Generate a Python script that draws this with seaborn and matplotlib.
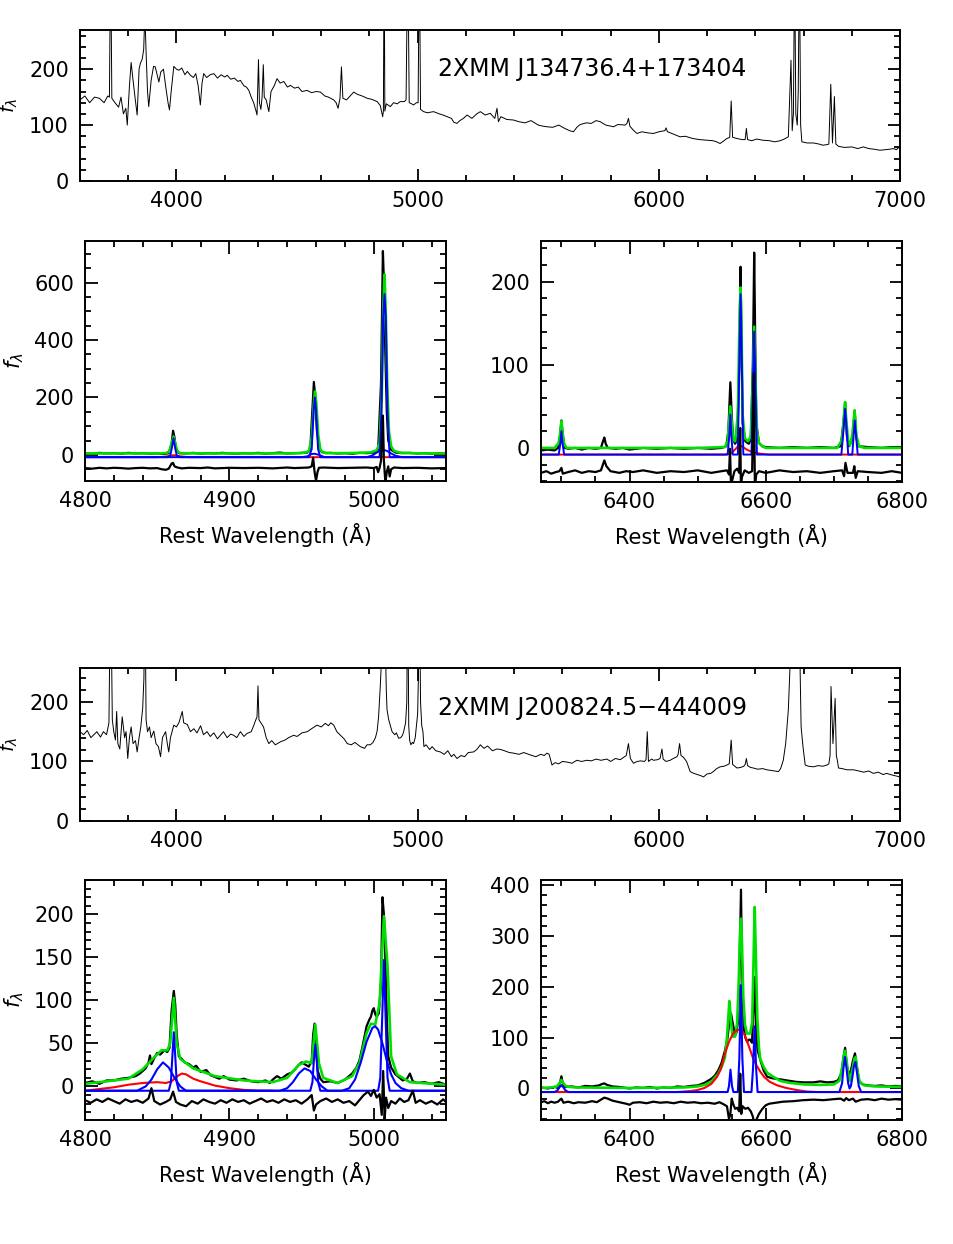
import seaborn as sns
import matplotlib.pyplot as plt
from matplotlib.ticker import MultipleLocator

# ---------------- overview spectrum, 2XMM J134736.4+173404 ----------------
ov1_wave = [3600, 3620, 3640, 3660, 3680, 3700, 3715, 3722, 3727, 3732,
            3745, 3760, 3770, 3780, 3790, 3796, 3805, 3812, 3820, 3828,
            3837, 3845, 3850, 3858, 3864, 3869, 3874, 3880, 3885, 3895,
            3905, 3912, 3920, 3927, 3935, 3946, 3955, 3965, 3971, 3978,
            3989, 4000, 4010, 4022, 4035, 4045, 4058, 4070, 4080, 4090,
            4099, 4106, 4113, 4125, 4140, 4155, 4170, 4185, 4200, 4210,
            4225, 4240, 4255, 4265, 4280, 4290, 4300, 4310, 4320, 4330,
            4334, 4340, 4344, 4350, 4355, 4360, 4364, 4372, 4383, 4392,
            4405, 4417, 4430, 4445, 4460, 4472, 4490, 4505, 4520, 4542,
            4560, 4580, 4597, 4615, 4630, 4652, 4662, 4670, 4678, 4684,
            4690, 4705, 4720, 4735, 4750, 4770, 4790, 4810, 4832, 4845,
            4855, 4858, 4861, 4864, 4870, 4887, 4900, 4915, 4928, 4945,
            4952, 4959, 4965, 4975, 4983, 4995, 5002, 5007, 5012, 5025,
            5040, 5066, 5090, 5105, 5122, 5140, 5150, 5163, 5175, 5190,
            5205, 5225, 5245, 5260, 5280, 5301, 5320, 5329, 5335, 5345,
            5370, 5398, 5420, 5445, 5470, 5500, 5520, 5536, 5560, 5585,
            5610, 5630, 5646, 5660, 5674, 5700, 5720, 5740, 5757, 5780,
            5800, 5812, 5830, 5860, 5868, 5874, 5880, 5892, 5909, 5930,
            5955, 5978, 6000, 6025, 6030, 6036, 6060, 6088, 6110, 6140,
            6170, 6199, 6225, 6240, 6254, 6270, 6282, 6294, 6300, 6306,
            6324, 6345, 6358, 6363, 6368, 6385, 6406, 6430, 6460, 6480,
            6503, 6520, 6537, 6548, 6553, 6558, 6563, 6568, 6574, 6578,
            6583, 6588, 6593, 6615, 6641, 6665, 6680, 6697, 6705, 6713,
            6720, 6728, 6734, 6745, 6770, 6800, 6825, 6848, 6870, 6890,
            6917, 6940, 6960, 6972, 6985, 7000]
ov1_flux = [145, 152, 140, 150, 148, 140, 152, 150, 420, 148,
            140, 132, 150, 120, 130, 100, 170, 212, 180, 150,
            118, 200, 210, 218, 235, 300, 230, 160, 133, 180,
            205, 204, 190, 177, 195, 200, 170, 140, 127, 160,
            205, 200, 198, 202, 190, 196, 189, 185, 192, 170,
            136, 175, 192, 185, 190, 192, 184, 190, 186, 189,
            182, 184, 178, 180, 170, 168, 162, 150, 140, 125,
            118, 217, 140, 128, 150, 208, 150, 145, 124, 160,
            170, 183, 175, 178, 168, 171, 166, 168, 160, 162,
            158, 160, 159, 152, 150, 145, 140, 130, 148, 204,
            148, 145, 152, 159, 155, 152, 148, 146, 142, 135,
            115, 125, 420, 125, 138, 133, 140, 138, 142, 142,
            145, 420, 140, 138, 136, 140, 140, 420, 128, 124,
            122, 124, 120, 118, 115, 112, 105, 103, 108, 112,
            118, 112, 120, 124, 118, 121, 112, 130, 106, 115,
            110, 109, 106, 104, 108, 100, 98, 97, 96, 100,
            94, 90, 88, 96, 101, 104, 103, 108, 106, 100,
            98, 97, 101, 100, 103, 112, 98, 92, 85, 88,
            86, 85, 88, 90, 95, 88, 84, 79, 80, 76,
            74, 73, 72, 70, 67, 72, 76, 78, 143, 78,
            76, 74, 74, 94, 74, 72, 75, 73, 72, 70,
            72, 75, 79, 216, 90, 120, 400, 120, 100, 160,
            400, 100, 70, 68, 68, 66, 64, 65, 66, 173,
            68, 151, 66, 62, 60, 61, 58, 61, 58, 57,
            55, 56, 57, 58, 56, 62]

# ---------------- Hbeta / [OIII] fit, J134736.4 ----------------
z1_data_wave = [4800, 4805, 4810, 4815, 4820, 4825, 4830, 4835, 4840, 4845,
                4850, 4855, 4858, 4860, 4861, 4862, 4863, 4865, 4870, 4875,
                4880, 4885, 4890, 4895, 4900, 4905, 4910, 4915, 4920, 4925,
                4930, 4935, 4940, 4945, 4950, 4954, 4956, 4957.5, 4958.5, 4959.5,
                4960.5, 4962, 4964, 4967, 4970, 4975, 4980, 4985, 4990, 4995,
                5000, 5003, 5005, 5006.3, 5007, 5008, 5009, 5010, 5012, 5015,
                5020, 5025, 5030, 5035, 5040, 5045, 5050]
z1_data_flux = [6, 4, 7, 5, 6, 4, 7, 5, 6, 4,
                5, 3, 6, 40, 84, 60, 20, 6, 5, 7,
                4, 6, 5, 7, 5, 4, 6, 5, 7, 4,
                6, 8, 5, 6, 7, 8, 20, 160, 254, 200,
                90, 25, 10, 6, 7, 5, 6, 4, 7, 6,
                8, 15, 250, 710, 600, 350, 150, 50, 18, 8,
                6, 7, 5, 6, 4, 6, 5]
z1_fit_wave = [4800, 4820, 4840, 4850, 4856, 4858.5, 4860, 4861.3, 4862.5, 4864,
               4866, 4880, 4900, 4920, 4940, 4950, 4955, 4957, 4958.5, 4959.3,
               4960.2, 4961.5, 4963, 4965, 4970, 4980, 4990, 4998, 5002, 5004,
               5005.5, 5006.5, 5007.4, 5008.3, 5009.3, 5010.5, 5012, 5014, 5018, 5025,
               5035, 5050]
z1_fit_flux = [5, 5, 5, 5, 6, 12, 40, 64, 40, 12,
               6, 5, 5, 5, 5, 6, 12, 60, 180, 221,
               180, 70, 18, 8, 6, 6, 7, 9, 16, 40,
               200, 500, 628, 500, 250, 80, 30, 14, 8, 6,
               5, 5]
z1_narrow_wave = [4800, 4857, 4859, 4860.2, 4861.3, 4862.4, 4863.6, 4866, 4955, 4957,
                  4958.3, 4959.2, 4960.1, 4961.4, 4963, 5004, 5005.3, 5006.5, 5007.4, 5008.3,
                  5009.5, 5011, 5050]
z1_narrow_flux = [-8, -8, -3, 25, 58, 25, -3, -8, -8, 20,
                  150, 200, 150, 20, -8, -8, 150, 480, 560, 480,
                  150, -8, -8]
z1_wing_wave = [4800, 4950, 4954, 4957, 4959, 4962, 4966, 4995, 4999, 5002,
                5005, 5007, 5009, 5012, 5015, 5020, 5050]
z1_wing_flux = [-8, -8, -5, 3, 4, 0, -8, -8, -2, 8,
                16, 17, 14, 5, -3, -8, -8]
z1_broad_wave = [4800, 4850, 4856, 4860, 4862, 4866, 4872, 5050]
z1_broad_flux = [-8, -8, -6, -2, -1, -5, -8, -8]
z1_resid_wave = [4800, 4805, 4810, 4815, 4820, 4825, 4830, 4835, 4840, 4845,
                 4850, 4853, 4856, 4858, 4860, 4861, 4862, 4864, 4867, 4872,
                 4880, 4885, 4890, 4900, 4910, 4920, 4930, 4940, 4945, 4950,
                 4955, 4957, 4958, 4959, 4960, 4961, 4962, 4965, 4975, 4985,
                 4995, 5000, 5002, 5003, 5004, 5005, 5006.3, 5007, 5008, 5009,
                 5010, 5011, 5012, 5014, 5020, 5030, 5040, 5050]
z1_resid_flux = [-46, -48, -45, -47, -45, -46, -48, -46, -45, -47,
                 -46, -50, -52, -48, -30, -28, -40, -44, -47, -45,
                 -46, -44, -47, -45, -46, -45, -47, -44, -46, -45,
                 -44, -40, -10, -60, -90, -60, -45, -44, -46, -45,
                 -44, -46, -42, -60, -45, -20, 137, -20, -95, -60,
                 -40, -75, -50, -44, -46, -45, -47, -46]

# ---------------- Halpha / [NII] / [SII] fit, J134736.4 ----------------
z2_data_wave = [6270, 6280, 6290, 6295, 6298, 6300, 6302, 6305, 6310, 6320,
                6330, 6340, 6350, 6358, 6361, 6363, 6365, 6368, 6380, 6390,
                6400, 6420, 6440, 6460, 6480, 6500, 6520, 6535, 6542, 6545,
                6548, 6550, 6552, 6555, 6558, 6561, 6563, 6564.5, 6566, 6570,
                6575, 6578, 6581, 6583, 6584.5, 6586, 6590, 6595, 6600, 6620,
                6640, 6660, 6680, 6700, 6710, 6714, 6716.5, 6719, 6722, 6727,
                6730.5, 6733, 6736, 6750, 6770, 6785, 6800]
z2_data_flux = [-3, -2, -3, 0, 15, 33, 15, 0, -1, 0,
                -2, 0, -1, 0, 8, 12.5, 5, 0, -1, 0,
                -2, 0, -1, 0, -1, 0, -1, 0, 2, 20,
                79, 40, 10, 5, 10, 100, 218, 120, 30, 8,
                5, 10, 100, 235, 130, 30, 6, 2, 1, 0,
                1, 0, 1, 0, 2, 30, 55, 15, 2, 10,
                45, 12, 2, 1, 0, 1, 1]
z2_fit_wave = [6270, 6290, 6296, 6298.5, 6300, 6301.5, 6304, 6308, 6500, 6540,
               6544, 6546, 6548, 6550, 6552, 6555, 6559, 6561.5, 6563, 6564.5,
               6566, 6569, 6574, 6578, 6581, 6583, 6585, 6587, 6590, 6595,
               6600, 6705, 6712, 6715, 6716.5, 6718, 6721, 6723.5, 6727, 6730.5,
               6733, 6737, 6745, 6800]
z2_fit_flux = [0, 0, 6, 20, 32, 20, 4, 0, 0, 1,
               8, 30, 50, 30, 10, 8, 40, 160, 193, 140,
               40, 12, 8, 14, 80, 146, 80, 20, 6, 2,
               0, 0, 10, 40, 55, 35, 8, 3, 15, 45,
               15, 2, 0, 0]
z2_narrow_wave = [6270, 6296, 6298.5, 6300, 6301.5, 6304, 6544, 6546.5, 6548, 6549.5,
                  6551.5, 6559, 6561.5, 6563, 6564.5, 6567, 6579, 6581.5, 6583, 6584.5,
                  6587, 6711, 6714.5, 6716.5, 6718.5, 6721, 6727, 6729, 6730.7, 6732.5,
                  6735, 6800]
z2_narrow_flux = [-8, -8, 6, 20, 6, -8, -8, 15, 40, 15,
                  -8, -8, 120, 185, 120, -8, -8, 90, 140, 90,
                  -8, -8, 25, 47, 25, -8, -8, 15, 33, 15,
                  -8, -8]
z2_broad_wave = [6270, 6540, 6550, 6556, 6560, 6565, 6572, 6580, 6592, 6605, 6800]
z2_broad_flux = [-8, -8, -6, -1, 3, 2, -2, -5, -7, -8, -8]
z2_resid_wave = [6270, 6278, 6285, 6292, 6297, 6300, 6302, 6310, 6320, 6330,
                 6340, 6350, 6358, 6363, 6366, 6372, 6385, 6395, 6405, 6420,
                 6440, 6460, 6480, 6500, 6520, 6535, 6543, 6546, 6547.5, 6549,
                 6551, 6554, 6558, 6561, 6562.5, 6563.5, 6565, 6569, 6575, 6580,
                 6582.5, 6584, 6586, 6590, 6600, 6620, 6640, 6660, 6680, 6700,
                 6712, 6715, 6717, 6720, 6728, 6730, 6732, 6735, 6750, 6770,
                 6785, 6800]
z2_resid_flux = [-30, -28, -31, -29, -28, -24, -31, -29, -27, -30,
                 -28, -29, -27, -15, -22, -28, -30, -28, -29, -27,
                 -30, -28, -29, -27, -30, -28, -27, -32, -1, -48,
                 -38, -28, -25, -30, 24, -48, -35, -27, -30, -28,
                 90, -48, -32, -28, -30, -27, -29, -28, -30, -28,
                 -27, -34, -18, -30, -30, -22, -36, -28, -29, -30,
                 -28, -30]

# ---------------- overview spectrum, 2XMM J200824.5-444009 ----------------
ov2_wave = [3600, 3615, 3630, 3645, 3655, 3670, 3685, 3697, 3710, 3720,
            3727, 3734, 3740, 3747, 3752, 3757, 3765, 3775, 3785, 3791,
            3798, 3805, 3812, 3820, 3830, 3837, 3845, 3852, 3860, 3865,
            3869, 3874, 3880, 3888, 3895, 3906, 3915, 3925, 3934, 3942,
            3955, 3962, 3968, 3975, 3989, 4000, 4010, 4024, 4030, 4045,
            4058, 4072, 4085, 4100, 4112, 4127, 4140, 4155, 4170, 4182,
            4195, 4210, 4225, 4237, 4250, 4265, 4280, 4292, 4310, 4320,
            4327, 4334, 4338, 4342, 4350, 4361, 4372, 4383, 4395, 4410,
            4431, 4450, 4465, 4486, 4500, 4520, 4542, 4560, 4583, 4600,
            4617, 4630, 4640, 4652, 4665, 4680, 4695, 4708, 4725, 4740,
            4762, 4780, 4790, 4804, 4815, 4825, 4832, 4838, 4845, 4850,
            4855, 4861, 4866, 4870, 4873, 4880, 4887, 4894, 4905, 4912,
            4921, 4930, 4937, 4942, 4950, 4955, 4959, 4963, 4967, 4972,
            4978, 4983, 4990, 4996, 5000, 5003, 5007, 5012, 5017, 5022,
            5026, 5035, 5050, 5060, 5075, 5094, 5110, 5125, 5140, 5150,
            5163, 5180, 5195, 5210, 5232, 5245, 5260, 5275, 5290, 5310,
            5329, 5345, 5360, 5380, 5398, 5420, 5440, 5467, 5490, 5510,
            5525, 5536, 5545, 5550, 5557, 5570, 5585, 5600, 5619, 5640,
            5660, 5680, 5702, 5720, 5740, 5760, 5785, 5800, 5820, 5840,
            5854, 5865, 5874, 5882, 5895, 5910, 5925, 5940, 5947, 5952,
            5957, 5970, 5978, 5995, 6005, 6013, 6018, 6030, 6047, 6060,
            6075, 6080, 6086, 6092, 6102, 6115, 6130, 6145, 6160, 6175,
            6185, 6200, 6215, 6226, 6240, 6254, 6270, 6282, 6292, 6300,
            6306, 6315, 6324, 6340, 6352, 6358, 6363, 6368, 6380, 6392,
            6410, 6430, 6448, 6465, 6480, 6496, 6505, 6516, 6526, 6537,
            6545, 6552, 6563, 6575, 6583, 6586, 6590, 6598, 6607, 6620,
            6641, 6660, 6680, 6697, 6705, 6710, 6714, 6722, 6731, 6736,
            6741, 6745, 6760, 6780, 6807, 6830, 6850, 6870, 6890, 6910,
            6930, 6945, 6960, 6980, 7000]
ov2_flux = [150, 145, 152, 140, 144, 150, 141, 150, 145, 165,
            420, 170, 150, 136, 184, 130, 121, 175, 140, 150,
            105, 140, 158, 130, 135, 116, 140, 158, 190, 240,
            420, 170, 150, 158, 140, 151, 130, 125, 108, 140,
            150, 130, 116, 140, 161, 158, 165, 184, 165, 162,
            150, 155, 148, 160, 145, 150, 142, 148, 138, 144,
            150, 140, 146, 144, 140, 150, 142, 147, 150, 160,
            168, 175, 227, 170, 165, 158, 140, 130, 135, 128,
            133, 136, 140, 144, 142, 148, 150, 155, 161, 158,
            164, 160, 165, 161, 150, 144, 138, 130, 128, 132,
            125, 122, 128, 128, 132, 140, 151, 175, 226, 270,
            320, 420, 300, 220, 187, 170, 160, 150, 145, 148,
            139, 140, 144, 150, 165, 200, 420, 160, 135, 128,
            132, 130, 140, 165, 180, 240, 420, 200, 160, 150,
            125, 128, 120, 125, 118, 116, 112, 118, 108, 112,
            105, 110, 108, 115, 116, 120, 128, 122, 126, 118,
            121, 120, 118, 115, 114, 112, 115, 111, 108, 112,
            110, 114, 112, 105, 94, 98, 96, 100, 99, 97,
            102, 100, 102, 101, 104, 102, 104, 100, 105, 103,
            107, 110, 130, 105, 97, 100, 101, 100, 103, 150,
            100, 104, 102, 103, 105, 121, 104, 100, 102, 105,
            108, 112, 130, 110, 107, 100, 83, 80, 78, 76,
            74, 79, 80, 83, 88, 91, 92, 94, 96, 136,
            95, 92, 89, 90, 92, 95, 105, 93, 90, 89,
            87, 88, 86, 85, 84, 83, 88, 102, 130, 187,
            270, 330, 420, 330, 420, 250, 158, 124, 94, 92,
            91, 93, 92, 94, 96, 110, 226, 130, 206, 110,
            100, 89, 88, 86, 86, 84, 82, 84, 80, 82,
            78, 80, 78, 76, 74]

# ---------------- Hbeta / [OIII] fit, J200824.5 ----------------
z3_data_wave = [4800, 4805, 4810, 4815, 4820, 4825, 4830, 4835, 4838, 4842,
                4844, 4845, 4846, 4848, 4850, 4852, 4855, 4857, 4858.5, 4860,
                4861.5, 4862.5, 4863.5, 4865, 4867, 4869, 4872, 4875, 4877, 4880,
                4884, 4887, 4890, 4893, 4896, 4900, 4905, 4910, 4915, 4920,
                4925, 4928, 4930, 4933, 4936, 4940, 4943, 4945, 4948, 4950,
                4952, 4955, 4957, 4958, 4959, 4960, 4961, 4963, 4965, 4970,
                4975, 4980, 4985, 4988, 4990, 4992, 4995, 4997, 4998, 4999,
                5000, 5001, 5002, 5003.5, 5005, 5006, 5007, 5008, 5009, 5010,
                5012, 5015, 5018, 5020, 5023, 5025, 5027, 5030, 5035, 5040,
                5045, 5050]
z3_data_flux = [4, 6, 3, 7, 7, 9, 10, 12, 15, 21,
                28, 36, 26, 33, 39, 37, 42, 40, 45, 89,
                111, 95, 60, 35, 32, 28, 26, 22, 24, 17,
                19, 13, 11, 9, 12, 8, 7, 9, 6, 5,
                7, 4, 8, 12, 9, 14, 16, 19, 25, 28,
                26, 23, 30, 60, 73, 55, 19, 9, 5, 6,
                4, 8, 15, 22, 30, 45, 70, 78, 81, 88,
                91, 84, 81, 85, 120, 220, 200, 147, 80, 35,
                22, 14, 10, 7, 9, 15, 6, 4, 5, 3,
                5, 2]
z3_fit_wave = [4800, 4830, 4840, 4848, 4853, 4857, 4859, 4861.5, 4863.5, 4866,
               4875, 4890, 4910, 4930, 4940, 4948, 4953, 4957, 4959.5, 4962,
               4965, 4975, 4985, 4990, 4995, 4998, 5001, 5004, 5007, 5009.5,
               5012, 5016, 5025, 5050]
z3_fit_flux = [3, 9, 20, 34, 42, 42, 50, 103, 50, 32,
               21, 12, 7, 5, 10, 25, 29, 27, 72, 27,
               10, 4, 12, 27, 62, 73, 72, 97, 198, 140,
               35, 14, 5, 2]
z3_narrow_wave = [4800, 4858, 4859.5, 4860.5, 4861.5, 4862.5, 4863.5, 4865, 4956, 4957.5,
                  4958.5, 4959.5, 4960.5, 4961.5, 4963, 5003, 5004.5, 5006, 5007, 5008,
                  5009.5, 5011, 5050]
z3_narrow_flux = [-5, -5, 5, 35, 63, 35, 5, -5, -5, 5,
                  30, 49, 30, 5, -5, -5, 10, 90, 147, 90,
                  10, -5, -5]
z3_wing_wave = [4800, 4836, 4842, 4846, 4850, 4854, 4858, 4862, 4866, 4870,
                4935, 4940, 4944, 4948, 4952, 4956, 4960, 4964, 4968, 4978,
                4983, 4987, 4991, 4995, 4999, 5001, 5003, 5006, 5009, 5012,
                5015, 5019, 5024, 5050]
z3_wing_flux = [-5, -5, 0, 8, 20, 28, 22, 10, 0, -5,
                -5, -2, 5, 15, 21, 18, 8, 0, -5, -5,
                -2, 8, 28, 52, 68, 70, 66, 50, 30, 14,
                4, -2, -5, -5]
z3_broad_wave = [4800, 4810, 4820, 4830, 4840, 4850, 4856, 4860, 4864, 4867,
                 4870, 4875, 4880, 4890, 4900, 4910, 4920, 4930]
z3_broad_flux = [-5, -3, -1, 2, 4, 5, 4, 6, 12, 15,
                 14, 9, 6, 1, -2, -4, -5, -5]
z3_resid_wave = [4800, 4804, 4808, 4812, 4816, 4820, 4824, 4828, 4832, 4836,
                 4840, 4844, 4846, 4848, 4852, 4856, 4859, 4861, 4863, 4866,
                 4870, 4874, 4878, 4882, 4886, 4890, 4894, 4898, 4902, 4906,
                 4910, 4914, 4918, 4922, 4926, 4930, 4934, 4938, 4942, 4946,
                 4950, 4954, 4957, 4958.5, 4960, 4963, 4967, 4971, 4975, 4979,
                 4983, 4987, 4990, 4993, 4996, 4998, 5000, 5002, 5004, 5005.5,
                 5006.5, 5007.5, 5008.5, 5010, 5012, 5015, 5018, 5021, 5024, 5027,
                 5029, 5032, 5036, 5040, 5044, 5048, 5050]
z3_resid_flux = [-16, -19, -15, -18, -14, -17, -20, -15, -18, -16,
                 -19, -14, -2, -17, -21, -18, -15, -6, -18, -21,
                 -23, -17, -20, -15, -18, -20, -16, -19, -15, -18,
                 -16, -20, -17, -14, -18, -16, -19, -15, -18, -16,
                 -20, -15, -10, -28, -21, -17, -14, -18, -15, -19,
                 -17, -22, -16, -10, -6, -11, -4, -13, -9, -33,
                 18, -38, -13, -25, -17, -20, -14, -18, -16, -5,
                 -19, -16, -20, -17, -21, -15, -18]

# ---------------- Halpha / [NII] / [SII] fit, J200824.5 ----------------
z4_data_wave = [6270, 6280, 6290, 6295, 6298, 6300, 6302, 6305, 6315, 6325,
                6335, 6345, 6355, 6360, 6363, 6367, 6375, 6385, 6395, 6400,
                6410, 6420, 6430, 6440, 6450, 6460, 6470, 6480, 6490, 6500,
                6510, 6520, 6525, 6530, 6535, 6540, 6544, 6546, 6549, 6552,
                6555, 6557, 6559, 6561, 6563.6, 6565, 6567.5, 6570, 6572.5, 6575,
                6577, 6579.8, 6581.5, 6583.7, 6585.5, 6588, 6592, 6597, 6602, 6610,
                6621, 6635, 6645, 6656, 6670, 6680, 6690, 6700, 6706, 6711,
                6714, 6716.5, 6719, 6722, 6725, 6728, 6731, 6733.5, 6737, 6742,
                6750, 6760, 6770, 6780, 6790, 6800]
z4_data_flux = [2, 0, 3, 1, 12, 24, 10, 3, 4, 2,
                5, 4, 6, 9, 10, 7, 4, 3, 1, 0,
                2, 1, 3, 0, 2, 1, 4, 3, 5, 6,
                11, 19, 25, 35, 50, 74, 100, 126, 147, 125,
                105, 110, 129, 200, 391, 250, 121, 100, 92, 96,
                96, 90, 150, 219, 120, 75, 56, 35, 23, 20,
                18, 15, 13, 12, 12, 14, 12, 13, 16, 30,
                60, 80, 45, 28, 35, 55, 69, 45, 15, 8,
                6, 5, 6, 4, 5, 4]
z4_fit_wave = [6270, 6285, 6293, 6297, 6300, 6303, 6307, 6320, 6400, 6480,
               6500, 6510, 6520, 6530, 6536, 6540, 6543, 6545.5, 6546.5, 6548,
               6550, 6552, 6555, 6558, 6560.5, 6562, 6563.6, 6565, 6567, 6569.5,
               6572.5, 6577, 6580, 6582, 6583.7, 6585.5, 6587.5, 6590, 6592, 6597,
               6602, 6610, 6621, 6635, 6656, 6680, 6700, 6708, 6712, 6714.5,
               6716.5, 6719, 6722, 6724, 6727, 6730, 6732, 6734.5, 6738, 6745,
               6760, 6800]
z4_fit_flux = [1, 2, 4, 10, 17, 10, 4, 2, 1, 2,
               4, 7, 13, 29, 45, 61, 100, 150, 172, 150,
               115, 102, 102, 130, 220, 300, 334, 290, 180, 125,
               108, 108, 130, 250, 357, 260, 140, 80, 58, 42,
               31, 24, 15, 11, 8, 7, 8, 15, 40, 65,
               74, 50, 20, 15, 35, 58, 62, 35, 12, 6,
               4, 3]
z4_narrow_wave = [6270, 6290, 6294, 6297, 6300, 6303, 6306, 6310, 6544, 6546,
                  6548.2, 6550.4, 6552.5, 6559, 6561.2, 6563.4, 6565.6, 6568, 6579, 6581.3,
                  6583.6, 6585.8, 6588, 6708, 6712, 6714, 6716.2, 6718.5, 6721, 6723,
                  6725, 6727.5, 6729.5, 6731.7, 6734, 6736.5, 6740, 6800]
z4_narrow_flux = [-7, -7, -4, 2, 6.5, 2, -4, -7, -7, 5,
                  37, 5, -7, -7, 60, 203, 60, -7, -7, 40,
                  122, 40, -7, -7, 10, 40, 62, 40, 10, 0,
                  5, 25, 45, 52, 30, 5, -7, -7]
z4_broad_wave = [6270, 6470, 6490, 6500, 6510, 6520, 6528, 6534, 6540, 6546,
                 6552, 6558, 6563, 6568, 6572, 6577, 6582, 6587, 6592, 6598,
                 6606, 6617, 6630, 6645, 6660, 6675, 6800]
z4_broad_flux = [-7, -7, -5, -3, 1, 9, 22, 38, 68, 92,
                 108, 115, 116, 108, 95, 76, 57, 44, 33, 22,
                 13, 6, 1, -3, -6, -7, -7]
z4_resid_wave = [6270, 6275, 6280, 6285, 6290, 6295, 6298, 6300, 6303, 6310,
                 6318, 6325, 6335, 6345, 6352, 6358, 6363, 6368, 6375, 6385,
                 6395, 6400, 6405, 6415, 6425, 6435, 6445, 6455, 6465, 6475,
                 6485, 6495, 6505, 6515, 6525, 6532, 6538, 6543, 6546, 6548,
                 6550, 6552, 6555, 6558, 6561, 6562.5, 6564, 6566, 6570, 6574,
                 6578, 6581, 6583, 6586, 6590, 6595, 6600, 6605, 6615, 6625,
                 6640, 6655, 6670, 6685, 6700, 6710, 6715, 6718, 6722, 6728,
                 6732, 6740, 6750, 6760, 6770, 6780, 6790, 6800]
z4_resid_flux = [-27, -25, -29, -26, -28, -26, -22, -20, -28, -26,
                 -29, -27, -28, -25, -27, -22, -18, -20, -24, -27,
                 -30, -32, -28, -27, -29, -26, -28, -27, -29, -26,
                 -28, -27, -29, -28, -30, -27, -31, -35, -60, -50,
                 -20, -30, -40, -38, -45, 29, -50, -35, -40, -38,
                 -45, -55, -70, -62, -50, -40, -33, -30, -28, -26,
                 -25, -23, -22, -23, -21, -20, -24, -19, -23, -20,
                 -26, -22, -21, -23, -20, -22, -21, -22]

titles = ["2XMM J134736.4+173404", "2XMM J200824.5\u2212444009"]
xlabel = "Rest Wavelength (\u00c5)"

GREEN = "#00e000"
BLUE = "#0000ff"
RED = "#ff0000"

sns.set_style("ticks", {"xtick.direction": "in", "ytick.direction": "in"})
plt.rcParams["font.family"] = ["DejaVu Sans"]
plt.rcParams["axes.linewidth"] = 1.4
plt.rcParams["text.color"] = "black"
plt.rcParams["axes.labelcolor"] = "black"
plt.rcParams["xtick.color"] = "black"
plt.rcParams["ytick.color"] = "black"

W, H = 954, 1244
fig = plt.figure(figsize=(W / 100, H / 100), dpi=100)


def panel(left, top, right, bottom):
    return fig.add_axes([left / W, 1 - bottom / H, (right - left) / W, (bottom - top) / H])


def style(ax, xlim, ylim, xmaj, xmin, ymaj, ymin):
    ax.set_xlim(*xlim)
    ax.set_ylim(*ylim)
    ax.xaxis.set_major_locator(MultipleLocator(xmaj))
    ax.xaxis.set_minor_locator(MultipleLocator(xmin))
    ax.yaxis.set_major_locator(MultipleLocator(ymaj))
    ax.yaxis.set_minor_locator(MultipleLocator(ymin))
    ax.tick_params(which="both", direction="in", top=True, right=True, width=1.3,
                   labelsize=15, colors="black")
    ax.tick_params(which="major", length=9)
    ax.tick_params(which="minor", length=4.5)
    ax.tick_params(axis="x", pad=7)
    ax.tick_params(axis="y", pad=8)
    for s in ax.spines.values():
        s.set_visible(True)
        s.set_color("black")
    ax.set_xlabel("")
    ax.set_ylabel("")


def line(ax, wave, flux, color, lw):
    sns.lineplot(x=wave, y=flux, ax=ax, color=color, linewidth=lw,
                 estimator=None, sort=False, legend=False)


def overview(top, bottom, wave, flux, ylim, title):
    ax = panel(80, top, 900, bottom)
    line(ax, wave, flux, "black", 0.7)
    style(ax, (3600, 7000), ylim, 1000, 200, 100, 20)
    ax.text(0.4366, 0.74, title, transform=ax.transAxes, fontsize=17,
            color="black", ha="left", va="center")
    fig.text(9 / W, 1 - (top + bottom) / 2 / H, r"$f_\lambda$", rotation=90,
             fontsize=14, color="black", ha="center", va="center")
    return ax


def fitpanel(left, top, right, bottom, curves, xlim, ylim, ticks, flabel):
    ax = panel(left, top, right, bottom)
    for wave, flux, color, lw in curves:
        line(ax, wave, flux, color, lw)
    style(ax, xlim, ylim, *ticks)
    ax.set_xlabel(xlabel, fontsize=15, labelpad=9, color="black")
    if flabel:
        fig.text(14 / W, 1 - (top + bottom) / 2 / H, r"$f_\lambda$", rotation=90,
                 fontsize=15, color="black", ha="center", va="center")
    return ax


overview(30, 181, ov1_wave, ov1_flux, (0, 270), titles[0])
fitpanel(85, 241, 446, 481,
         [(z1_data_wave, z1_data_flux, "black", 1.6),
          (z1_fit_wave, z1_fit_flux, GREEN, 1.9),
          (z1_broad_wave, z1_broad_flux, RED, 1.4),
          (z1_wing_wave, z1_wing_flux, BLUE, 1.4),
          (z1_narrow_wave, z1_narrow_flux, BLUE, 1.4),
          (z1_resid_wave, z1_resid_flux, "black", 1.6)],
         (4800, 5050), (-91, 745), (100, 20, 200, 50), True)
fitpanel(541, 241, 902, 482,
         [(z2_data_wave, z2_data_flux, "black", 1.6),
          (z2_fit_wave, z2_fit_flux, GREEN, 1.9),
          (z2_broad_wave, z2_broad_flux, RED, 1.4),
          (z2_narrow_wave, z2_narrow_flux, BLUE, 1.4),
          (z2_resid_wave, z2_resid_flux, "black", 1.6)],
         (6270, 6800), (-41, 249), (200, 50, 100, 20), False)

overview(668, 821, ov2_wave, ov2_flux, (0, 257), titles[1])
fitpanel(85, 880, 446, 1120,
         [(z3_data_wave, z3_data_flux, "black", 1.6),
          (z3_fit_wave, z3_fit_flux, GREEN, 1.9),
          (z3_broad_wave, z3_broad_flux, RED, 1.5),
          (z3_wing_wave, z3_wing_flux, BLUE, 1.5),
          (z3_narrow_wave, z3_narrow_flux, BLUE, 1.5),
          (z3_resid_wave, z3_resid_flux, "black", 1.6)],
         (4800, 5050), (-39, 240), (100, 20, 50, 10), True)
fitpanel(541, 880, 902, 1120,
         [(z4_data_wave, z4_data_flux, "black", 1.6),
          (z4_fit_wave, z4_fit_flux, GREEN, 1.9),
          (z4_broad_wave, z4_broad_flux, RED, 1.5),
          (z4_narrow_wave, z4_narrow_flux, BLUE, 1.5),
          (z4_resid_wave, z4_resid_flux, "black", 1.6)],
         (6270, 6800), (-62, 410), (200, 50, 100, 20), False)

fig.savefig("out.png", dpi=100)
